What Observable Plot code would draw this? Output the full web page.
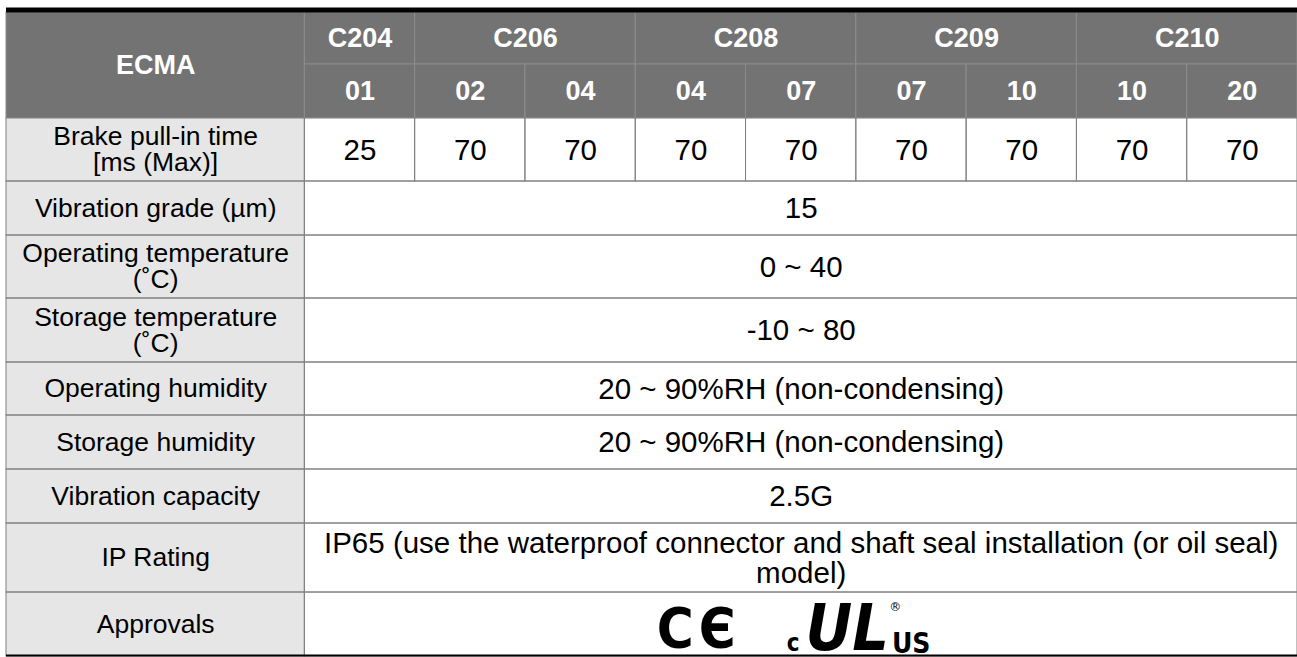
<!DOCTYPE html>
<html><head><meta charset="utf-8">
<script src="https://cdn.jsdelivr.net/npm/d3@7"></script>
<script src="https://cdn.jsdelivr.net/npm/@observablehq/plot@0.6"></script>
<style>body{margin:0;background:#fff;overflow:hidden}</style>
</head><body><div id="chart"></div>
<script>
// ---- data ----
const headerTitle = "ECMA";
const groups = ["C204", "C206", "C208", "C209", "C210"];
const groupSpans = [1, 2, 2, 2, 2];
const codes = ["01", "02", "04", "04", "07", "07", "10", "10", "20"];
const rowLabels = [
  "Brake pull-in time\n[ms (Max)]",
  "Vibration grade (µm)",
  "Operating temperature\n(˚C)",
  "Storage temperature\n(˚C)",
  "Operating humidity",
  "Storage humidity",
  "Vibration capacity",
  "IP Rating",
  "Approvals"
];
const brakeTimes = [25, 70, 70, 70, 70, 70, 70, 70, 70];
const sharedValues = [
  "15",
  "0 ~ 40",
  "-10 ~ 80",
  "20 ~ 90%RH (non-condensing)",
  "20 ~ 90%RH (non-condensing)",
  "2.5G",
  "IP65 (use the waterproof connector and shaft seal installation (or oil seal)\nmodel)",
  ""
];
const logoParts = ["C", "Є", "c", "UL", "US", "®"];

// ---- layout ----
const LW = 2.705;                       // label column width, in data-column units
const rowH = [52, 54, 63, 54, 63, 64, 53, 54, 54, 69, 64]; // header rows + body rows
const ye = Array.from(d3.cumsum([0, ...rowH]));
const total = ye[ye.length - 1];
const nCols = codes.length;

const cells = [];
cells.push({x1: 0, x2: LW, y1: ye[0], y2: ye[2], kind: "head", text: headerTitle});
let c = 0;
groups.forEach((g, i) => {
  cells.push({x1: LW + c, x2: LW + c + groupSpans[i], y1: ye[0], y2: ye[1], kind: "head", text: g});
  c += groupSpans[i];
});
codes.forEach((k, i) => cells.push({x1: LW + i, x2: LW + i + 1, y1: ye[1], y2: ye[2], kind: "head", text: k}));
rowLabels.forEach((lab, r) => {
  cells.push({x1: 0, x2: LW, y1: ye[r + 2], y2: ye[r + 3], kind: "label", text: lab});
  if (r === 0) {
    brakeTimes.forEach((v, i) => cells.push({x1: LW + i, x2: LW + i + 1, y1: ye[2], y2: ye[3], kind: "value", text: String(v)}));
  } else {
    cells.push({x1: LW, x2: LW + nCols, y1: ye[r + 2], y2: ye[r + 3], kind: "value", text: sharedValues[r - 1]});
  }
});
const head = cells.filter(d => d.kind === "head");
const labels = cells.filter(d => d.kind === "label");
const values = cells.filter(d => d.kind === "value");
const body = cells.filter(d => d.kind !== "head");

const cx = d => (d.x1 + d.x2) / 2;
const cy = d => (d.y1 + d.y2) / 2;
const font = "'Liberation Sans', Arial, sans-serif";
const logoX = LW + nCols / 2;
const cond = "'DejaVu Sans Condensed', 'DejaVu Sans'";
const logoStyle = {
  "C":  {dx: -126, dy: -10, fontSize: 56, fontFamily: cond, fontWeight: "bold"},
  "Є":  {dx: -84, dy: -10, fontSize: 56, fontFamily: cond, fontWeight: "bold"},
  "c":  {dx: -8, dy: -6, fontSize: 24, fontFamily: cond, fontWeight: "bold"},
  "UL": {dx: 46, dy: -7, fontSize: 64, fontFamily: cond, fontWeight: "bold", fontStyle: "italic"},
  "US": {dx: 110, dy: -4, fontSize: 28, fontFamily: cond, fontWeight: "bold"},
  "®":  {dx: 94, dy: -46, fontSize: 12, fontFamily: "'DejaVu Sans'", fontWeight: "normal"}
};

const chart = Plot.plot({
  width: 1297,
  height: 657,
  marginTop: 12,
  marginBottom: 1,
  marginLeft: 6,
  marginRight: 0,
  style: {fontFamily: font, background: "#fff"},
  x: {domain: [0, LW + nCols], axis: null},
  y: {domain: [0, total], range: [12, 656], axis: null},
  marks: [
    Plot.rect(head, {x1: "x1", x2: "x2", y1: "y1", y2: "y2", fill: "#737373", stroke: "#8c8c8c", strokeWidth: 1}),
    Plot.rect(labels, {x1: "x1", x2: "x2", y1: "y1", y2: "y2", fill: "#e6e6e6"}),
    Plot.rect(values, {x1: "x1", x2: "x2", y1: "y1", y2: "y2", fill: "#ffffff"}),
    Plot.rect(body, {x1: "x1", x2: "x2", y1: "y1", y2: "y2", fill: "none", stroke: "#808080", strokeWidth: 1}),
    Plot.ruleY([0], {stroke: "#000", strokeWidth: 5, dy: -2.5}),
    Plot.ruleY([total], {stroke: "#000", strokeWidth: 2, dy: -1}),
    Plot.text(head, {x: cx, y: cy, text: "text", fill: "#fff", fontWeight: "bold", fontSize: 27}),
    Plot.text(labels, {x: cx, y: cy, text: "text", fill: "#000", fontSize: 26.5, lineHeight: 0.97}),
    Plot.text(values, {x: cx, y: cy, text: "text", fill: "#000", fontSize: 29.5, lineHeight: 1.02}),
    ...logoParts.map(p => Plot.text([p], {
      x: () => logoX, y: () => total, text: d => d, lineAnchor: "bottom", fill: "#000",
      ...logoStyle[p]
    }))
  ]
});
document.getElementById("chart").appendChild(chart);
</script>
</body></html>
